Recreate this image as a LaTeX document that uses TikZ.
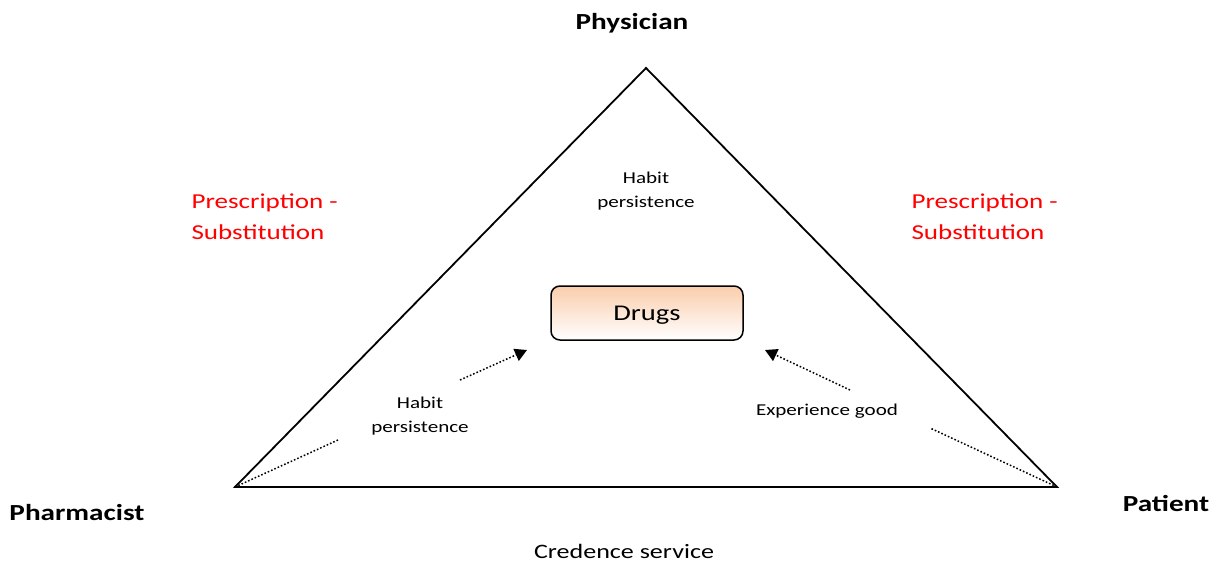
\documentclass[tikz,border=0pt]{standalone}
\usepackage{fontspec}
\setmainfont{Carlito}[FakeStretch=1.27]
\usetikzlibrary{arrows.meta}
\definecolor{peach}{RGB}{250,205,172}
\definecolor{redtext}{RGB}{255,0,0}

\tikzset{
  corner/.style={font=\fontsize{23}{27}\selectfont\bfseries},
  sidelabel/.style={anchor=west,align=left,text=redtext,font=\fontsize{21.3}{31}\selectfont},
  smalllabel/.style={align=center,font=\fontsize{16.6}{24.5}\selectfont},
  dotline/.style={line width=1.5pt,dash pattern=on 1.6pt off 2pt}
}

\begin{document}
\begin{tikzpicture}[x=1pt,y=-1pt]
\useasboundingbox (0,0) rectangle (1228,561);
\coordinate (top) at (646,68);
\coordinate (left) at (235,487);
\coordinate (right) at (1057,487);
\draw[line width=1.8pt,line join=miter] (top) -- (left) -- (right) -- cycle;
\node[corner] (physician) at (632,23) {Physician};
\node[corner] (pharmacist) at (77,513) {Pharmacist};
\node[corner] (patient) at (1166,503) {Patient};
\node[font=\fontsize{20.5}{25}\selectfont] (credence) at (624,551) {Credence service};
\node[sidelabel] (presc1) at (188,217) {Prescription -\\Substitution};
\node[sidelabel] (presc2) at (908,217) {Prescription -\\Substitution};
\node[smalllabel] (habit1) at (646,191) {Habit\\persistence};
\node[smalllabel] (habit2) at (420,416) {Habit\\persistence};
\node[smalllabel] (exp) at (827,411) {Experience good};
\node[style={draw,line width=1.5pt,rounded corners=9pt,top color=peach,bottom color=white,minimum width=192pt,minimum height=54pt,text height=20pt,text depth=4.8pt,font=\fontsize{22.5}{27}\selectfont}] (drugs) at (647,313) {Drugs};
\coordinate (l1) at (338,440);
\coordinate (l2) at (460,380);
\coordinate (l3) at (527,350);
\coordinate (r1) at (930,428);
\coordinate (r2) at (850,390);
\coordinate (r3) at (765,350);
\path[draw,dotline](left) -- (l1);
\path[draw,dotline,-{Triangle[length=12pt,width=13pt]}](l2) -- (l3);
\path[draw,dotline](right) -- (r1);
\path[draw,dotline,-{Triangle[length=12pt,width=13pt]}](r2) -- (r3);
\end{tikzpicture}
\end{document}
